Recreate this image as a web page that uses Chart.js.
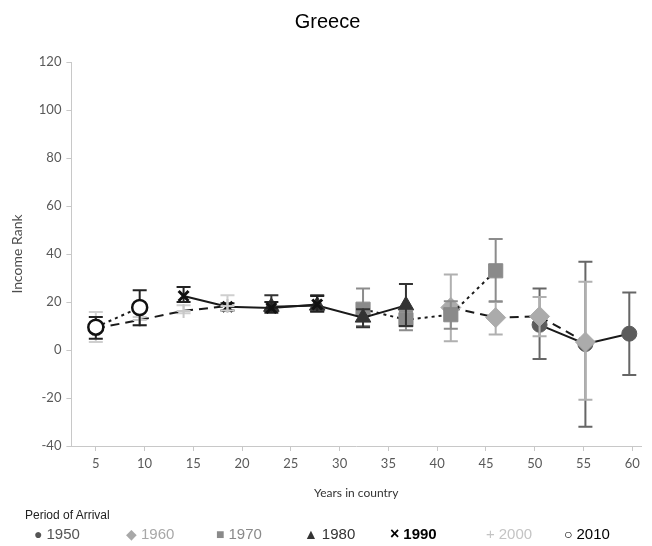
<!DOCTYPE html>
<html>
<head>
<meta charset="utf-8">
<script src="https://cdn.jsdelivr.net/npm/chart.js@4.4.0/dist/chart.umd.min.js"></script>
<style>
  body { margin: 0; background: #fff; }
  #wrap { position: relative; width: 652px; height: 546px; }
  #legend { position: absolute; left: 0; top: 506px; width: 652px; height: 40px; font-family: "Liberation Sans", Arial, sans-serif; }
  #legend .ttl { position: absolute; left: 25px; top: 2px; font-size: 12px; color: #222; }
  #legend .item { position: absolute; top: 19px; font-size: 15px; white-space: nowrap; }
  #legend .mk { font-size: 14px; margin-right: 4px; }
</style>
</head>
<body>
<div id="wrap">
  <canvas id="chart" width="652" height="546"></canvas>
  <div id="legend"><div class="ttl">Period of Arrival</div></div>
</div>
<script>
// ---- data ----
const periods = ["1950", "1960", "1970", "1980", "1990", "2000", "2010"];
const xTicks = [5, 10, 15, 20, 25, 30, 35, 40, 45, 50, 55, 60];
const yTicks = [-40, -20, 0, 20, 40, 60, 80, 100, 120];

const x1950 = [50.5, 55.2, 59.7];
const y1950 = [10.5, 2.5, 6.8];
const lo1950 = [-3.7, -32, -10.4];
const hi1950 = [25.6, 36.8, 24];

const x1960 = [41.4, 46, 50.5, 55.2];
const y1960 = [17.7, 13.5, 14, 3.3];
const lo1960 = [3.6, 6.5, 5.7, -20.7];
const hi1960 = [31.5, 20, 22.1, 28.4];

const x1970 = [32.4, 36.8, 41.4, 46];
const y1970 = [17, 12.6, 14.7, 33];
const lo1970 = [10, 8.2, 8.9, 20.3];
const hi1970 = [25.6, 16, 20.3, 46.2];

const x1980 = [23, 27.7, 32.4, 36.8];
const y1980 = [18, 18.5, 13.5, 18.6];
const lo1980 = [16.5, 16, 9.5, 10];
const hi1980 = [22.8, 22.8, 17, 27.5];

const x1990 = [14, 18.5, 23, 27.7];
const y1990 = [22.5, 18, 17.5, 19];
const lo1990 = [20, 16.5, 15.5, 16];
const hi1990 = [26.3, 19.5, 20, 22.5];

const x2000 = [5, 9.5, 14, 18.5];
const y2000 = [9, 12.5, 16.3, 18.3];
const lo2000 = [3.3, 10.3, 15.3, 16.5];
const hi2000 = [15.8, 13.7, 18.6, 22.8];

const x2010 = [5, 9.5];
const y2010 = [9.5, 17.7];
const lo2010 = [4.7, 10.3];
const hi2010 = [13.7, 24.9];

// ---- styles ----
const series = [
  { xs: x1950, ys: y1950, lo: lo1950, hi: hi1950, style: "circle",   radius: 7.5, fill: "#5c5c5c", stroke: "#5c5c5c", bw: 1,   err: "#666666", dash: [],     glyph: "●", txt: "#555555", left: 34 },
  { xs: x1960, ys: y1960, lo: lo1960, hi: hi1960, style: "rectRot",  radius: 10,  fill: "#ababab", stroke: "#ababab", bw: 1,   err: "#b0b0b0", dash: [9, 6], glyph: "◆", txt: "#a8a8a8", left: 126 },
  { xs: x1970, ys: y1970, lo: lo1970, hi: hi1970, style: "rect",     radius: 10,  fill: "#8a8a8a", stroke: "#8a8a8a", bw: 1,   err: "#8c8c8c", dash: [3, 4], glyph: "■", txt: "#8a8a8a", left: 216 },
  { xs: x1980, ys: y1980, lo: lo1980, hi: hi1980, style: "triangle", radius: 9,   fill: "#333333", stroke: "#333333", bw: 1,   err: "#333333", dash: [],     glyph: "▲", txt: "#333333", left: 304 },
  { xs: x1990, ys: y1990, lo: lo1990, hi: hi1990, style: "crossRot", radius: 7,   fill: "#111111", stroke: "#111111", bw: 3,   err: "#222222", dash: [],     glyph: "×", txt: "#000000", left: 390, bold: true },
  { xs: x2000, ys: y2000, lo: lo2000, hi: hi2000, style: "cross",    radius: 7,   fill: "#c8c8c8", stroke: "#c8c8c8", bw: 2,   err: "#cfcfcf", dash: [9, 6], glyph: "+", txt: "#c4c4c4", left: 486 },
  { xs: x2010, ys: y2010, lo: lo2010, hi: hi2010, style: "circle",   radius: 7.5, fill: "#ffffff", stroke: "#111111", bw: 2.5, err: "#222222", dash: [3, 4], glyph: "○", txt: "#000000", left: 564 }
];

// ---- error bars drawn through the scales ----
const errorBars = {
  id: "errorBars",
  beforeDatasetDraw(chart, args) {
    const ds = chart.data.datasets[args.index];
    const xs = chart.scales.x, ys = chart.scales.y;
    const ctx = chart.ctx;
    ctx.save();
    ctx.strokeStyle = ds.errColor;
    ctx.lineWidth = 2;
    ds.errLow.forEach((lo, i) => {
      const px = xs.getPixelForValue(ds.data[i].x);
      const pLo = ys.getPixelForValue(lo);
      const pHi = ys.getPixelForValue(ds.errHigh[i]);
      ctx.beginPath();
      ctx.moveTo(px, pLo); ctx.lineTo(px, pHi);
      ctx.moveTo(px - 7, pLo); ctx.lineTo(px + 7, pLo);
      ctx.moveTo(px - 7, pHi); ctx.lineTo(px + 7, pHi);
      ctx.stroke();
    });
    ctx.restore();
  }
};

const datasets = series.map((s, i) => ({
  label: periods[i],
  data: s.xs.map((x, j) => ({ x: x, y: s.ys[j] })),
  errLow: s.lo,
  errHigh: s.hi,
  errColor: s.err,
  order: series.length - i,
  showLine: true,
  borderColor: "#1a1a1a",
  borderWidth: 2,
  borderDash: s.dash,
  pointStyle: s.style,
  pointRadius: s.radius,
  pointBackgroundColor: s.fill,
  pointBorderColor: s.stroke,
  pointBorderWidth: s.bw,
  tension: 0
}));

const axisFont = { family: "Lato, 'Open Sans', sans-serif", size: 13 };

new Chart(document.getElementById("chart"), {
  type: "line",
  data: { datasets: datasets },
  options: {
    responsive: false,
    animation: false,
    layout: { padding: { left: 4, right: 1, top: 0, bottom: 46 } },
    plugins: {
      legend: { display: false },
      tooltip: { enabled: false },
      title: {
        display: true,
        text: "Greece",
        color: "#000",
        font: { family: "'Liberation Sans', Arial, sans-serif", size: 20, weight: "normal" },
        padding: { top: 10, bottom: 28 }
      }
    },
    scales: {
      x: {
        type: "linear",
        min: 2.5,
        max: 60.9,
        afterBuildTicks: (scale) => { scale.ticks = xTicks.map(v => ({ value: v })); },
        grid: { drawOnChartArea: false, drawTicks: true, tickLength: 5, color: "#c8c8c8" },
        border: { display: true, color: "#c8c8c8" },
        ticks: { color: "#595959", font: axisFont, padding: 5, maxRotation: 0 },
        title: { display: true, text: "Years in country", color: "#333", font: { family: axisFont.family, size: 12 }, padding: { top: 9, bottom: 0 } }
      },
      y: {
        min: -40,
        max: 120,
        afterBuildTicks: (scale) => { scale.ticks = yTicks.map(v => ({ value: v })); },
        grid: { drawOnChartArea: false, drawTicks: true, tickLength: 5, color: "#c8c8c8" },
        border: { display: true, color: "#c8c8c8" },
        ticks: { color: "#595959", font: axisFont, padding: 5 },
        title: { display: true, text: "Income Rank", color: "#4d4d4d", font: { family: axisFont.family, size: 14 }, padding: { top: 5, bottom: 8 } }
      }
    }
  },
  plugins: [errorBars]
});

// ---- legend ----
const legend = document.getElementById("legend");
series.forEach((s, i) => {
  const el = document.createElement("div");
  el.className = "item";
  el.style.left = s.left + "px";
  el.style.color = s.txt;
  if (s.bold) el.style.fontWeight = "bold";
  const mk = document.createElement("span");
  mk.className = "mk";
  mk.textContent = s.glyph;
  if (s.glyph === "×") mk.style.fontSize = "16px";
  if (s.glyph === "+") mk.style.fontSize = "15px";
  el.appendChild(mk);
  el.appendChild(document.createTextNode(periods[i]));
  legend.appendChild(el);
});
</script>
</body>
</html>
